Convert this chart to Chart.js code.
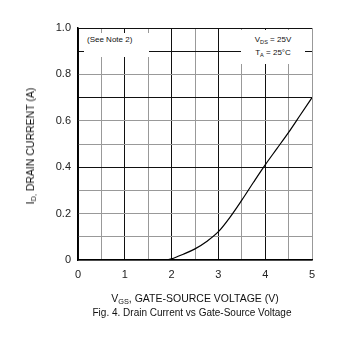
<!DOCTYPE html>
<html>
<head>
<meta charset="utf-8">
<script src="https://cdn.jsdelivr.net/npm/chart.js@4"></script>
<style>
  html, body { margin:0; padding:0; background:#fff; }
  #wrap { position:relative; width:349px; height:345px; font-family:"Liberation Sans", Arial, sans-serif; color:#111; }
  canvas { position:absolute; left:0; top:0; }
  .lbl { position:absolute; white-space:nowrap; }
  .ytitle { left:30px; top:146px; font-size:10.5px; transform:translate(-50%,-50%) rotate(-90deg); }
  .xtitle { left:195px; top:298px; font-size:10.5px; transform:translate(-50%,-50%); }
  .caption { left:192px; top:312px; font-size:10px; transform:translate(-50%,-50%); }
  .note { background:#fff; font-size:8px; line-height:13px; }
  sub { font-size:70%; vertical-align:-2px; line-height:0; }
</style>
</head>
<body>
<div id="wrap">
  <canvas id="c" width="349" height="345"></canvas>
  <div class="lbl ytitle">I<sub>D,</sub> DRAIN CURRENT (A)</div>
  <div class="lbl xtitle">V<sub>GS</sub>, GATE-SOURCE VOLTAGE (V)</div>
  <div class="lbl caption">Fig. 4. Drain Current vs Gate-Source Voltage</div>
  <div class="lbl note" style="left:84px;top:33px;width:62px;height:24px;padding-left:3px;">(See Note 2)</div>
  <div class="lbl note" style="left:241px;top:30px;width:64px;height:31px;text-align:center;padding-top:3px;">V<sub>DS</sub> = 25V<br>T<sub>A</sub> = 25°C</div>
</div>
<script>
// transfer curve
const vgs = [1.9, 2.0, 2.25, 2.5, 2.75, 3.0, 3.25, 3.5, 3.75, 4.0, 4.25, 4.5, 4.75, 5.0];
const idA = [0, 0.005, 0.025, 0.048, 0.08, 0.122, 0.185, 0.258, 0.335, 0.41, 0.48, 0.55, 0.625, 0.70];

const xTicks = [0, 1, 2, 3, 4, 5];
const yTicks = ['0', '0.2', '0.4', '0.6', '0.8', '1.0'];
// grid lines drawn darker in the scan
const yDark = [4, 7, 9, 10];

const points = vgs.map((x, i) => ({ x, y: idA[i] }));

new Chart(document.getElementById('c'), {
  type: 'line',
  data: { datasets: [{ data: points, borderColor: '#000', borderWidth: 1.2, pointRadius: 0, cubicInterpolationMode: 'monotone', fill: false }] },
  options: {
    responsive: false,
    animation: false,
    layout: { padding: { top: 28, right: 37, bottom: 0, left: 0 } },
    plugins: { legend: { display: false }, tooltip: { enabled: false } },
    scales: {
      x: {
        type: 'linear', min: 0, max: 5,
        afterFit: s => { s.height = 85; },
        ticks: {
          stepSize: 0.5, autoSkip: false, maxRotation: 0, padding: 8,
          color: '#222', font: { family: 'Liberation Sans', size: 11 },
          callback: v => Number.isInteger(v) && xTicks.includes(v) ? String(v) : ''
        },
        grid: {
          drawTicks: false,
          color: c => Number.isInteger(c.tick.value) && c.tick.value < 5 ? '#111' : '#999',
          lineWidth: 1
        },
        border: { color: '#000', width: 1.5 }
      },
      y: {
        type: 'linear', min: 0, max: 1,
        afterFit: s => { s.width = 78; },
        ticks: {
          stepSize: 0.1, autoSkip: false, padding: 7,
          color: '#222', font: { family: 'Liberation Sans', size: 11 },
          callback: v => { const k = Math.round(v * 10); return k % 2 === 0 ? yTicks[k / 2] : ''; }
        },
        grid: {
          drawTicks: false,
          color: c => yDark.includes(Math.round(c.tick.value * 10)) ? '#111' : '#999',
          lineWidth: 1
        },
        border: { color: '#000', width: 1.5 }
      }
    }
  }
});
</script>
</body>
</html>
